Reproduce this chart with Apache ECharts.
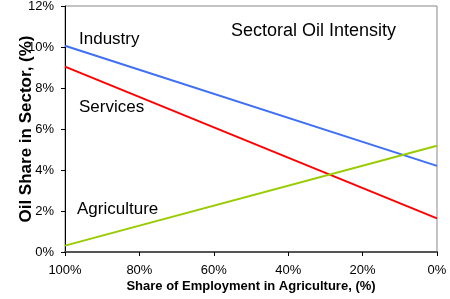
<!DOCTYPE html>
<html>
<head>
<meta charset="utf-8">
<script src="https://cdn.jsdelivr.net/npm/echarts@6/dist/echarts.min.js"></script>
<style>
  html, body {margin: 0; padding: 0; background: #fff;}
  #chart {width: 450px; height: 299px;}
</style>
</head>
<body>
<div id="chart"></div>
<script>
// share of employment in agriculture, (%) -- endpoints of each line
const shareAgri = [100, 0];
const industry = [10.06, 4.2];
const services = [9.04, 1.64];
const agriculture = [0.31, 5.18];

const pairs = vals => shareAgri.map((x, i) => [x, vals[i]]);

const chart = echarts.init(document.getElementById('chart'));

const font = 'Liberation Sans, Arial, sans-serif';

const option = {
    animation: false,
    grid: {
        left: 65,
        right: 13,
        top: 6,
        bottom: 47,
        outerBoundsMode: 'none',
        show: true,
        borderColor: '#888',
        borderWidth: 1
    },
    title: {
        text: 'Sectoral Oil Intensity',
        left: 226,
        top: 17,
        textStyle: {fontFamily: font, fontSize: 18, fontWeight: 'normal', color: '#000'}
    },
    xAxis: {
        type: 'value',
        inverse: true,
        min: 0,
        max: 100,
        interval: 20,
        name: 'Share of Employment in Agriculture, (%)',
        nameLocation: 'middle',
        nameGap: 28,
        nameMoveOverlap: false,
        nameTextStyle: {fontFamily: font, fontSize: 13, fontWeight: 'bold', color: '#000'},
        axisLine: {onZero: false, lineStyle: {color: '#555', width: 2}},
        axisTick: {length: 4, lineStyle: {color: '#000'}},
        axisLabel: {fontFamily: font, fontSize: 13, color: '#000', margin: 12, formatter: '{value}%'},
        splitLine: {show: false}
    },
    yAxis: {
        type: 'value',
        min: 0,
        max: 12,
        interval: 2,
        name: 'Oil Share in Sector, (%)',
        nameLocation: 'middle',
        nameGap: 30,
        nameMoveOverlap: false,
        nameTextStyle: {fontFamily: font, fontSize: 17, fontWeight: 'bold', color: '#000'},
        axisLine: {show: true, onZero: false, lineStyle: {color: '#000', width: 1}},
        axisTick: {show: true, length: 4, lineStyle: {color: '#000'}},
        axisLabel: {fontFamily: font, fontSize: 13, color: '#000', margin: 11, formatter: '{value}%'},
        splitLine: {show: false}
    },
    series: [
        {name: 'Industry', type: 'line', data: pairs(industry), symbol: 'none',
            lineStyle: {color: '#3f6ff5', width: 2}},
        {name: 'Services', type: 'line', data: pairs(services), symbol: 'none',
            lineStyle: {color: '#ff0000', width: 2}},
        {name: 'Agriculture', type: 'line', data: pairs(agriculture), symbol: 'none',
            lineStyle: {color: '#99cc00', width: 2}}
    ],
    graphic: [
        {type: 'text', left: 79, top: 31,
            style: {text: 'Industry', font: '17px ' + font, fill: '#000'}},
        {type: 'text', left: 79, top: 99,
            style: {text: 'Services', font: '17px ' + font, fill: '#000'}},
        {type: 'text', left: 77, top: 201,
            style: {text: 'Agriculture', font: '17px ' + font, fill: '#000'}}
    ]
};

chart.setOption(option);
</script>
</body>
</html>
